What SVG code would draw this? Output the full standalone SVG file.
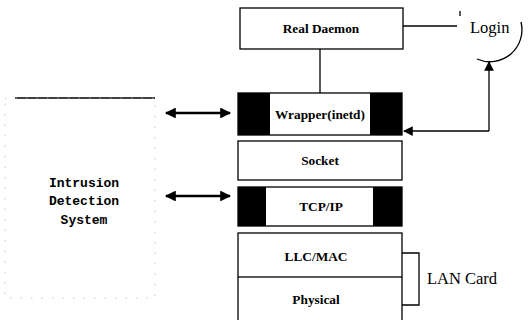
<svg xmlns="http://www.w3.org/2000/svg" width="531" height="320" viewBox="0 0 531 320">
  <defs>
    <style>
      .box { fill: #fff; stroke: #000; stroke-width: 1.3; }
      .blk { fill: #000; }
      .ln { fill: none; stroke: #000; stroke-width: 1.3; }
      .thick { fill: none; stroke: #000; stroke-width: 2.6; }
      .lbl { font-family: "Liberation Serif", "Times New Roman", serif; font-weight: bold; font-size: 13.3px; text-anchor: middle; fill: #000; }
      .rg { font-family: "Liberation Serif", "Times New Roman", serif; font-size: 16.5px; fill: #000; }
      .mono { font-family: "Liberation Mono", "Courier New", monospace; font-weight: bold; font-size: 13px; text-anchor: middle; fill: #000; }
      .faint { fill: none; stroke: #bbb; stroke-width: 0.8; stroke-dasharray: 1.5 9; }
    </style>
    <marker id="ah" viewBox="0 0 10 10" refX="9" refY="5" markerWidth="4.6" markerHeight="4.2" orient="auto-start-reverse" markerUnits="strokeWidth">
      <path d="M0,0 L10,5 L0,10 z" fill="#000"/>
    </marker>
    <marker id="ahs" viewBox="0 0 10 10" refX="9" refY="5" markerWidth="8.5" markerHeight="7.5" orient="auto" markerUnits="strokeWidth">
      <path d="M0,0 L10,5 L0,10 z" fill="#000"/>
    </marker>
  </defs>

  <!-- Intrusion detection system panel -->
  <g id="ids">
    <line x1="15" y1="98" x2="155" y2="98" stroke="#000" stroke-width="1.6"/>
    <rect x="5" y="98" width="150" height="200" class="faint"/>
    <text class="mono" x="84" y="187">Intrusion</text>
    <text class="mono" x="84" y="205">Detection</text>
    <text class="mono" x="84" y="224">System</text>
  </g>

  <!-- Protocol stack -->
  <g id="real-daemon">
    <rect class="box" x="240" y="8" width="163" height="41"/>
    <text class="lbl" x="321" y="33">Real Daemon</text>
  </g>

  <g id="wrapper">
    <rect class="box" x="238" y="93" width="164" height="42"/>
    <rect class="blk" x="238" y="93" width="32" height="42"/>
    <rect class="blk" x="370" y="93" width="32" height="42"/>
    <text class="lbl" x="320" y="119">Wrapper(inetd)</text>
  </g>

  <g id="socket">
    <rect class="box" x="238" y="141" width="164" height="39"/>
    <text class="lbl" x="320" y="165">Socket</text>
  </g>

  <g id="tcpip">
    <rect class="box" x="238" y="187" width="164" height="39"/>
    <rect class="blk" x="238" y="187" width="28" height="39"/>
    <rect class="blk" x="373" y="187" width="29" height="39"/>
    <text class="lbl" x="321" y="211" font-weight="normal">TCP/IP</text>
  </g>

  <g id="llc-mac">
    <rect class="box" x="238" y="233" width="164" height="44"/>
    <text class="lbl" x="316" y="261">LLC/MAC</text>
  </g>

  <g id="physical">
    <path class="ln" d="M238,277 V320 M402,277 V320"/>
    <text class="lbl" x="316" y="304">Physical</text>
  </g>

  <g id="login">
    <text class="rg" x="470" y="33">Login</text>
    <path class="ln" d="M521,22 A32,32 0 0 1 477,59"/>
    <path class="ln" d="M460,11 V16"/>
  </g>

  <g id="lan-card">
    <text class="rg" x="427" y="284">LAN Card</text>
  </g>

  <!-- Connectors -->
  <g id="connectors">
    <line class="ln" x1="320" y1="49" x2="320" y2="93"/>
    <line class="ln" x1="403" y1="26" x2="457" y2="26"/>
    <path class="ln" d="M402,253 H419 V305 H402"/>
    <line class="thick" x1="166" y1="113" x2="230" y2="113" marker-start="url(#ah)" marker-end="url(#ah)"/>
    <line class="thick" x1="166" y1="196" x2="230" y2="196" marker-start="url(#ah)" marker-end="url(#ah)"/>
    <path class="ln" d="M489,131 H404" marker-end="url(#ahs)"/>
    <path class="ln" d="M489,131 V62" marker-end="url(#ahs)"/>
  </g>
</svg>
